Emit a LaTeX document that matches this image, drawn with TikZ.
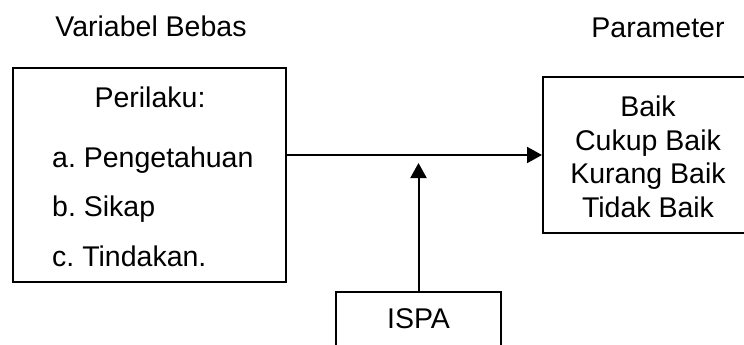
\documentclass[tikz,border=0pt]{standalone}
\usepackage{fontspec}
\setmainfont{Liberation Sans}
\usetikzlibrary{arrows.meta}
\frenchspacing

\tikzset{
  box/.style={draw, line width=2pt, rectangle, inner sep=0pt},
  txt/.style={inner sep=0pt, font=\fontsize{28.5}{33.5}\selectfont},
  arr/.style={line width=2pt, -{Triangle[length=15pt,width=16pt]}}
}

\begin{document}
\begin{tikzpicture}[x=1pt, y=-1pt]
  \clip (0,0) rectangle (744,345);
  \fill[white] (0,0) rectangle (744,345);

  % column headings
  \node[txt, anchor=base] (hleft) at (151,37) {Variabel Bebas};
  \node[txt, anchor=base] (hright) at (658,38) {Parameter};

  % independent variable box
  \node[box, minimum width=273pt, minimum height=214pt] (lb) at (149.5,175) {};
  \node[txt, anchor=base] (peri) at (150,107) {Perilaku:};
  \node[txt, anchor=base west] (ia) at (52,167) {a. Pengetahuan};
  \node[txt, anchor=base west] (ib) at (52,216) {b. Sikap};
  \node[txt, anchor=base west] (ic) at (52,266) {c. Tindakan.};

  % parameter box (runs past the right edge)
  \node[box, minimum width=210pt, minimum height=156pt] (rb) at (648,155) {};
  \node[txt, align=center] (rtext) at (648,157) {Baik\\Cukup Baik\\Kurang Baik\\Tidak Baik};

  % confounding factor box (runs past the bottom edge)
  \node[box, minimum width=165pt, minimum height=80pt, anchor=north] (ispa) at (418.5,291) {};
  \node[txt, anchor=base] (ispat) at (418.5,328) {ISPA};

  % connectors
  \coordinate (tip) at (418.5,163);
  \draw[arr] (rb.west -| lb.east) -- (rb.west);
  \draw[arr] (ispa.north) -- (tip);
\end{tikzpicture}
\end{document}
